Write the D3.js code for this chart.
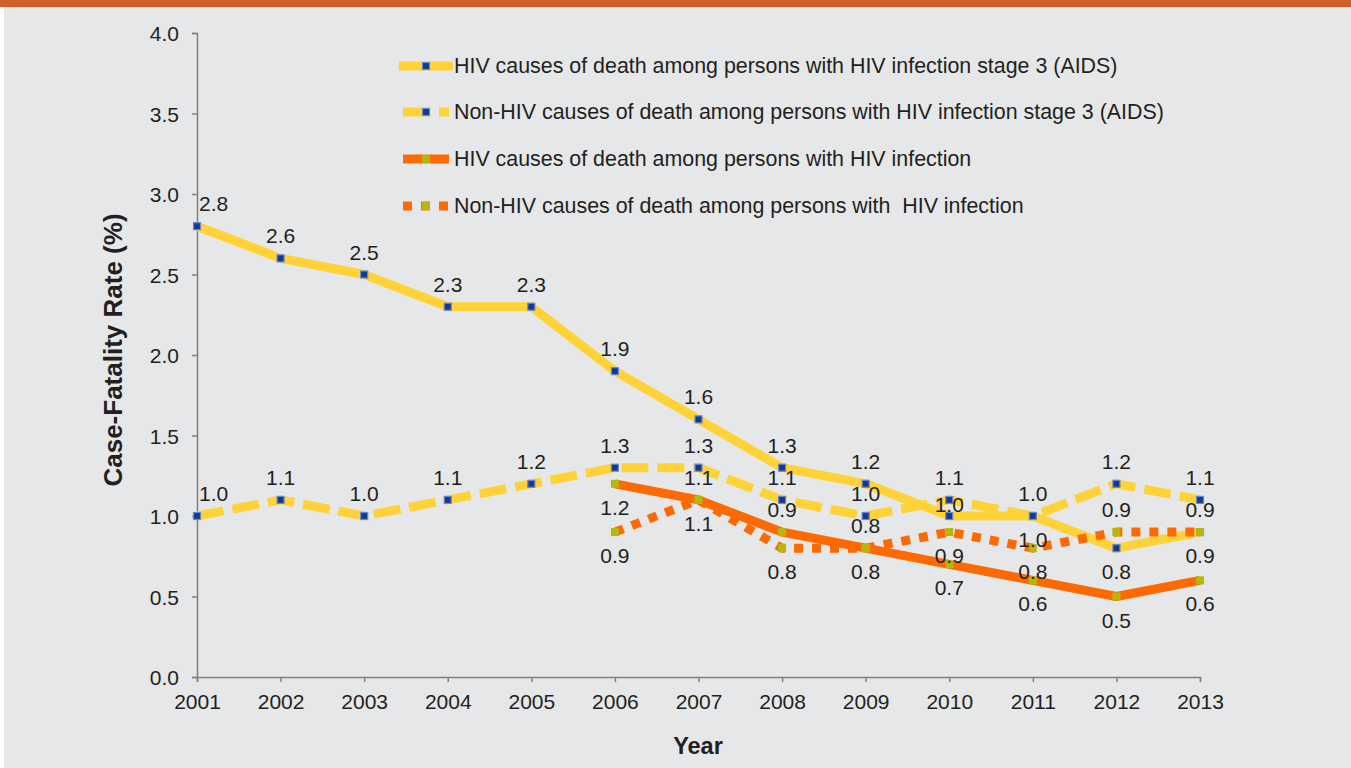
<!DOCTYPE html>
<html lang="en">
  <head>
    <meta charset="UTF-8" />
    <title>Case-Fatality Rate by Year</title>
    <script src="https://d3js.org/d3.v7.min.js"></script>
    <style>
      body { margin: 0; background: #e6e7e8; }
      svg { display: block; font-family: 'Liberation Sans', Arial, sans-serif; }
    </style>
  </head>
  <body>
    <div id="chart"></div>

    <script>
      const years = [2001, 2002, 2003, 2004, 2005, 2006, 2007, 2008, 2009, 2010, 2011, 2012, 2013];
      const yTicks = [0, 0.5, 1, 1.5, 2, 2.5, 3, 3.5, 4];

      const hivAids = [2.8, 2.6, 2.5, 2.3, 2.3, 1.9, 1.6, 1.3, 1.2, 1.0, 1.0, 0.8, 0.9];
      const nonHivAids = [1.0, 1.1, 1.0, 1.1, 1.2, 1.3, 1.3, 1.1, 1.0, 1.1, 1.0, 1.2, 1.1];
      const hivYears = [2006, 2007, 2008, 2009, 2010, 2011, 2012, 2013];
      const hivInf = [1.2, 1.1, 0.9, 0.8, 0.7, 0.6, 0.5, 0.6];
      const nonHivInf = [0.9, 1.1, 0.8, 0.8, 0.9, 0.8, 0.9, 0.9];

      // where each data label sits: a = above, c = just above, b = below
      const hivAidsLabel = 'aaaaaaaaacbbb';
      const nonHivAidsLabel = 'aaaaaaaaaaaaa';
      const hivInfLabel = 'baaabbbb';
      const nonHivInfLabel = 'bbbbbbaa';

      const names = [
        'HIV causes of death among persons with HIV infection stage 3 (AIDS)',
        'Non-HIV causes of death among persons with HIV infection stage 3 (AIDS)',
        'HIV causes of death among persons with HIV infection',
        'Non-HIV causes of death among persons with  HIV infection',
      ];

      const yellow = '#ffd337';
      const orange = '#ff6a00';

      const series = [
        { name: names[0], x: years, v: hivAids, lab: hivAidsLabel, color: yellow, dash: null, mk: 'blue' },
        { name: names[1], x: years, v: nonHivAids, lab: nonHivAidsLabel, color: yellow, dash: '27 9', mk: 'blue' },
        { name: names[2], x: hivYears, v: hivInf, lab: hivInfLabel, color: orange, dash: null, mk: 'green' },
        { name: names[3], x: hivYears, v: nonHivInf, lab: nonHivInfLabel, color: orange, dash: '9 9', mk: 'green' },
      ];

      const width = 1351;
      const height = 768;

      const svg = d3
        .select('#chart')
        .append('svg')
        .attr('width', width)
        .attr('height', height);

      svg.append('rect').attr('width', width).attr('height', height).attr('fill', '#e6e7e8');
      svg.append('rect').attr('width', width).attr('height', 7).attr('fill', '#d06029');
      svg.append('rect').attr('y', 7).attr('width', 4).attr('height', height).attr('fill', '#ffffff');

      const x = d3.scaleLinear().domain([2001, 2013]).range([197, 1200]);
      const y = d3.scaleLinear().domain([0, 4]).range([677, 33]);

      // axes
      const yAxis = svg
        .append('g')
        .attr('transform', 'translate(197,0)')
        .call(d3.axisLeft(y).tickValues(yTicks).tickFormat(d3.format('.1f')).tickSize(5).tickPadding(13));
      const xAxis = svg
        .append('g')
        .attr('transform', 'translate(0,677)')
        .call(d3.axisBottom(x).tickValues(years).tickFormat(d3.format('d')).tickSize(5).tickPadding(12));

      [xAxis, yAxis].forEach((g) => {
        g.select('.domain').attr('stroke', '#808080').attr('stroke-width', 1.5);
        g.selectAll('.tick line').attr('stroke', '#808080').attr('stroke-width', 1.5);
        g.selectAll('.tick text')
          .attr('fill', '#231f20')
          .style('font-size', '21px')
          .style('font-family', "'Liberation Sans', Arial, sans-serif");
      });
      yAxis.selectAll('.tick text').attr('dy', '0.36em');
      xAxis.selectAll('.tick text').attr('dy', '0.72em');

      svg
        .append('text')
        .attr('transform', 'translate(122,350) rotate(-90)')
        .attr('text-anchor', 'middle')
        .attr('fill', '#231f20')
        .style('font-size', '26px')
        .style('font-weight', 'bold')
        .text('Case-Fatality Rate (%)');

      svg
        .append('text')
        .attr('x', 698)
        .attr('y', 754)
        .attr('text-anchor', 'middle')
        .attr('fill', '#231f20')
        .style('font-size', '23.5px')
        .style('font-weight', 'bold')
        .text('Year');

      const line = d3
        .line()
        .x((d) => x(d[0]))
        .y((d) => y(d[1]));

      function marker(g, cx, cy, kind) {
        if (kind === 'blue') {
          g.append('rect')
            .attr('x', cx - 3.5)
            .attr('y', cy - 3.5)
            .attr('width', 7)
            .attr('height', 7)
            .attr('fill', '#0f3b94')
            .attr('stroke', '#6d86c8')
            .attr('stroke-width', 1.2);
        } else {
          g.append('rect')
            .attr('x', cx - 4)
            .attr('y', cy - 4)
            .attr('width', 8)
            .attr('height', 8)
            .attr('fill', '#b3b80b');
        }
      }

      const marks = svg.append('g');
      series.forEach((s) => {
        const pts = s.x.map((yr, i) => [yr, s.v[i]]);
        marks
          .append('path')
          .attr('d', line(pts))
          .attr('fill', 'none')
          .attr('stroke', s.color)
          .attr('stroke-width', 9)
          .attr('stroke-linejoin', 'round')
          .attr('stroke-dasharray', s.dash);
        pts.forEach((p) => marker(marks, x(p[0]), y(p[1]), s.mk));
      });

      const offset = { a: -15, c: -4, b: 31 };
      const labels = svg.append('g').attr('fill', '#231f20').style('font-size', '21px');
      series.forEach((s) => {
        s.x.forEach((yr, i) => {
          const px = x(yr);
          const py = y(s.v[i]);
          const first = yr === 2001;
          labels
            .append('text')
            .attr('x', first ? px + 2 : px)
            .attr('y', py + offset[s.lab[i]])
            .attr('text-anchor', first ? 'start' : 'middle')
            .text(d3.format('.1f')(s.v[i]));
        });
      });

      // legend
      const legendRows = [73, 119, 166, 213];
      const legend = svg.append('g');
      series.forEach((s, i) => {
        const ly = legendRows[i] - 7;
        legend
          .append('line')
          .attr('x1', i === 0 ? 399 : 403)
          .attr('x2', i === 0 ? 453 : 449)
          .attr('y1', ly)
          .attr('y2', ly)
          .attr('stroke', s.color)
          .attr('stroke-width', 9)
          .attr('stroke-dasharray', s.dash);
        marker(legend, 426, ly, s.mk);
        legend
          .append('text')
          .attr('x', 454)
          .attr('y', legendRows[i])
          .attr('fill', '#231f20')
          .style('font-size', '21.4px')
          .style('white-space', 'pre')
          .text(s.name);
      });
    </script>
  </body>
</html>
